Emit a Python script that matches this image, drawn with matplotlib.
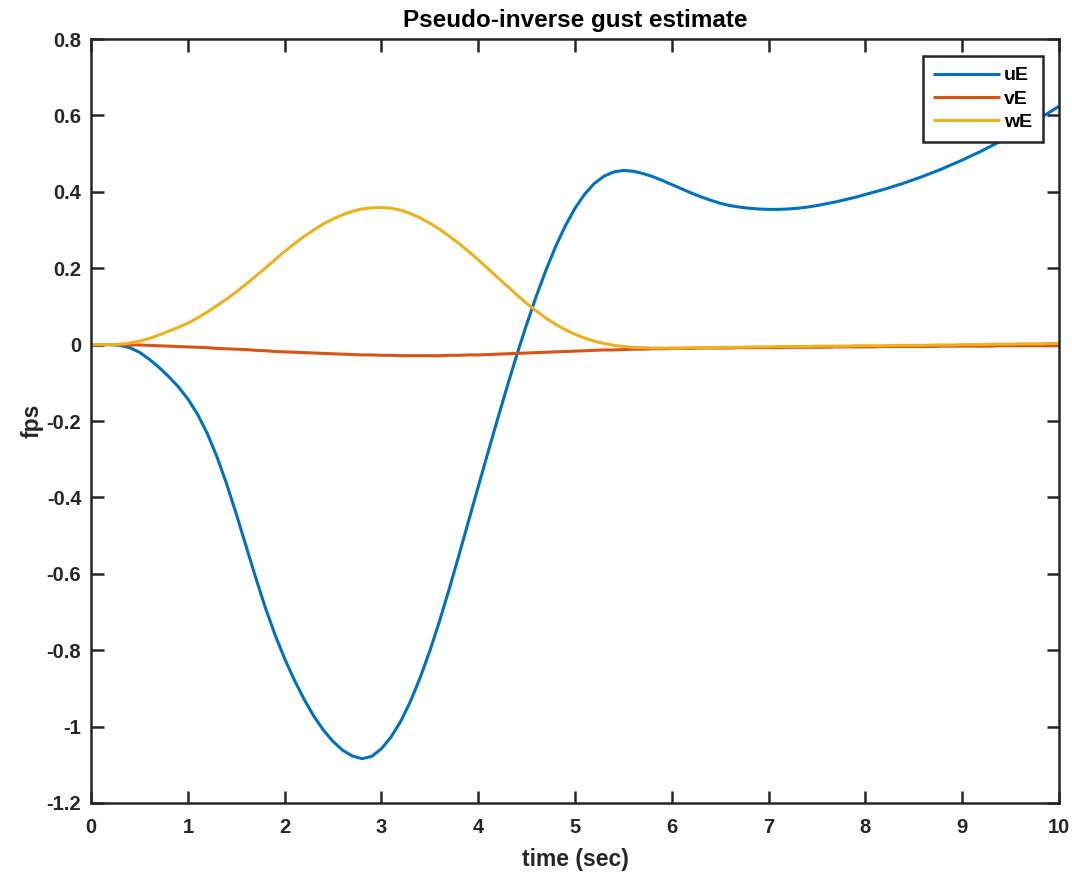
import matplotlib
matplotlib.use("Agg")
import matplotlib.pyplot as plt
from matplotlib.ticker import FixedLocator, FuncFormatter

# Time base (sec), 0.1 s steps
time_s = [round(0.1 * k, 1) for k in range(101)]

# Gust estimates (fps)
uE = [0.000, 0.000, 0.000, -0.002, -0.008, -0.020, -0.038, -0.059, -0.083, -0.110,
      -0.142, -0.182, -0.232, -0.293, -0.364, -0.443, -0.526, -0.609, -0.688, -0.759,
      -0.822, -0.878, -0.928, -0.972, -1.009, -1.039, -1.062, -1.077, -1.084, -1.078,
      -1.058, -1.027, -0.986, -0.934, -0.872, -0.802, -0.724, -0.640, -0.552, -0.462,
      -0.372, -0.283, -0.195, -0.109, -0.026, 0.053, 0.127, 0.195, 0.257, 0.311,
      0.357, 0.394, 0.422, 0.441, 0.452, 0.456, 0.454, 0.448, 0.440, 0.430,
      0.419, 0.408, 0.397, 0.387, 0.378, 0.370, 0.364, 0.360, 0.357, 0.355,
      0.354, 0.354, 0.355, 0.357, 0.360, 0.364, 0.369, 0.374, 0.380, 0.386,
      0.393, 0.400, 0.407, 0.415, 0.423, 0.432, 0.441, 0.451, 0.461, 0.472,
      0.483, 0.495, 0.507, 0.520, 0.533, 0.547, 0.561, 0.576, 0.592, 0.608,
      0.624]
vE = [0.000, 0.000, 0.000, 0.000, -0.001, -0.001, -0.002, -0.003, -0.004, -0.005,
      -0.006, -0.007, -0.008, -0.010, -0.011, -0.012, -0.013, -0.015, -0.016, -0.018,
      -0.019, -0.020, -0.021, -0.022, -0.023, -0.024, -0.025, -0.026, -0.027, -0.027,
      -0.028, -0.028, -0.029, -0.029, -0.029, -0.029, -0.029, -0.028, -0.028, -0.027,
      -0.027, -0.026, -0.025, -0.024, -0.023, -0.022, -0.021, -0.020, -0.019, -0.018,
      -0.017, -0.016, -0.015, -0.014, -0.014, -0.013, -0.012, -0.012, -0.011, -0.011,
      -0.010, -0.010, -0.010, -0.009, -0.009, -0.009, -0.009, -0.008, -0.008, -0.008,
      -0.008, -0.008, -0.007, -0.007, -0.007, -0.007, -0.007, -0.006, -0.006, -0.006,
      -0.006, -0.006, -0.005, -0.005, -0.005, -0.005, -0.005, -0.005, -0.004, -0.004,
      -0.004, -0.004, -0.004, -0.004, -0.003, -0.003, -0.003, -0.003, -0.003, -0.003,
      -0.003]
wE = [0.000, 0.000, 0.000, 0.001, 0.004, 0.009, 0.016, 0.025, 0.035, 0.045,
      0.056, 0.070, 0.085, 0.102, 0.119, 0.138, 0.158, 0.179, 0.200, 0.222,
      0.244, 0.264, 0.283, 0.300, 0.316, 0.329, 0.340, 0.349, 0.355, 0.358,
      0.359, 0.357, 0.352, 0.343, 0.332, 0.318, 0.302, 0.284, 0.265, 0.244,
      0.222, 0.199, 0.176, 0.153, 0.130, 0.108, 0.088, 0.069, 0.053, 0.039,
      0.027, 0.017, 0.009, 0.003, -0.002, -0.005, -0.007, -0.008, -0.009, -0.009,
      -0.009, -0.009, -0.008, -0.008, -0.008, -0.007, -0.007, -0.007, -0.006, -0.006,
      -0.006, -0.005, -0.005, -0.005, -0.005, -0.004, -0.004, -0.004, -0.004, -0.003,
      -0.003, -0.003, -0.003, -0.002, -0.002, -0.002, -0.002, -0.001, -0.001, -0.001,
      0.000, 0.000, 0.000, 0.001, 0.001, 0.001, 0.002, 0.002, 0.002, 0.003,
      0.003]

series_names = ["uE", "vE", "wE"]
series_colors = ["#0072BD", "#D95319", "#EDB120"]

x_ticks = [0, 1, 2, 3, 4, 5, 6, 7, 8, 9, 10]
y_ticks = [-1.2, -1.0, -0.8, -0.6, -0.4, -0.2, 0.0, 0.2, 0.4, 0.6, 0.8]

plt.rcParams["font.family"] = ["Liberation Sans", "DejaVu Sans"]
plt.rcParams["axes.unicode_minus"] = False

fig = plt.figure(figsize=(10.72, 8.73), dpi=100)
ax = fig.add_axes([0.0849, 0.0802, 0.9030, 0.8751])

for vals, name, col in zip([uE, vE, wE], series_names, series_colors):
    ax.plot(time_s, vals, color=col, lw=2.2, label=name,
            solid_joinstyle="round", solid_capstyle="butt")

ax.set_xlim(0, 10)
ax.set_ylim(-1.2, 0.8)
ax.xaxis.set_major_locator(FixedLocator(x_ticks))
ax.yaxis.set_major_locator(FixedLocator(y_ticks))
ax.xaxis.set_major_formatter(FuncFormatter(lambda v, p: "%g" % round(v, 6)))
ax.yaxis.set_major_formatter(FuncFormatter(lambda v, p: "%g" % round(v, 6)))

dark = "#262626"
for s in ax.spines.values():
    s.set_linewidth(1.8)
    s.set_color(dark)
ax.tick_params(direction="in", length=9, width=1.8, color=dark,
               top=True, right=True, labelsize=14.5, labelcolor=dark)
ax.tick_params(axis="x", pad=11)
ax.tick_params(axis="y", pad=7)
for lab in ax.get_xticklabels() + ax.get_yticklabels():
    lab.set_fontweight("bold")

ax.set_title("Pseudo-inverse gust estimate", fontsize=17.5, fontweight="bold",
             color="black", pad=9)
ax.set_xlabel("time (sec)", fontsize=16.5, fontweight="bold", color=dark, labelpad=8)
ax.set_ylabel("fps", fontsize=16.5, fontweight="bold", color=dark, labelpad=2)

leg = ax.legend(loc="upper right", bbox_to_anchor=(0.9835, 0.9777),
                borderaxespad=0, fancybox=False, framealpha=1,
                edgecolor=dark, handlelength=3.45, handletextpad=0.2,
                labelspacing=0.3, borderpad=0.55,
                prop={"weight": "bold", "size": 14})
leg.get_frame().set_linewidth(1.8)

fig.savefig("out.png", dpi=100)
